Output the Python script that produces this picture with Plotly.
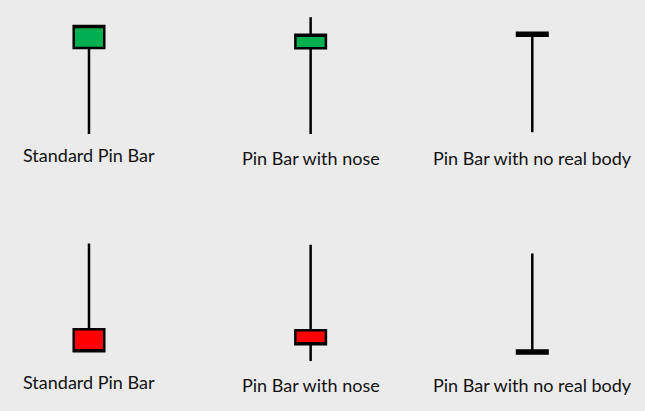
import plotly.graph_objects as go
from plotly.subplots import make_subplots

# candle positions and labels
positions = [1, 2, 3]
labels = ["Standard Pin Bar", "Pin Bar with nose", "Pin Bar with no real body"]

# top row: bullish pin bars (arbitrary price units, 0-100 per row)
top_open = [76.6, 76.5, 82.6]
top_high = [87.3, 91.6, 84.1]
top_low = [34.8, 34.8, 35.6]
top_close = [87.3, 83.1, 84.1]

# bottom row: bearish pin bars
bot_open = [39.8, 39.3, 29.4]
bot_high = [81.5, 80.9, 76.7]
bot_low = [29.1, 24.3, 28.0]
bot_close = [29.1, 32.5, 28.0]

BG = "#ebebeb"
GREEN = "#00b050"
RED = "#ff0000"

fig = make_subplots(rows=2, cols=1, vertical_spacing=0)


def add_candle(row, i, o, h, l, c):
    # body fill: green up, red down, black for the no-body bar
    if i == 2:
        fill_up = fill_dn = "black"
    else:
        fill_up, fill_dn = GREEN, RED
    fig.add_trace(go.Candlestick(
        x=[positions[i]], open=[o], high=[h], low=[l], close=[c],
        increasing=dict(line=dict(color="black", width=2.5), fillcolor=fill_up),
        decreasing=dict(line=dict(color="black", width=2.5), fillcolor=fill_dn),
        whiskerwidth=0, showlegend=False, hoverinfo="skip"),
        row=row, col=1)


for i in range(3):
    add_candle(1, i, top_open[i], top_high[i], top_low[i], top_close[i])
    add_candle(2, i, bot_open[i], bot_high[i], bot_low[i], bot_close[i])

lbl_font = dict(family="Lato", size=18, color="#111111")
annotations = []
top_y = [0.622, 0.616, 0.616]
bot_y = [0.071, 0.063, 0.063]
for i in range(3):
    annotations.append(dict(x=positions[i], y=top_y[i], xref="x", yref="paper",
                            text=labels[i], showarrow=False, font=lbl_font,
                            xanchor="center", yanchor="middle"))
    annotations.append(dict(x=positions[i], y=bot_y[i], xref="x", yref="paper",
                            text=labels[i], showarrow=False, font=lbl_font,
                            xanchor="center", yanchor="middle"))

fig.update_xaxes(range=[0.5985, 3.5085], visible=False, fixedrange=True,
                 rangeslider=dict(visible=False))
fig.update_yaxes(range=[0, 100], visible=False, fixedrange=True)

fig.update_layout(
    width=645, height=411,
    margin=dict(l=0, r=0, t=0, b=0),
    paper_bgcolor=BG, plot_bgcolor=BG,
    boxgap=0.803,
    annotations=annotations,
)

fig.write_html("out.html", config={"displayModeBar": False},
               post_script="document.body.style.margin='0';")
